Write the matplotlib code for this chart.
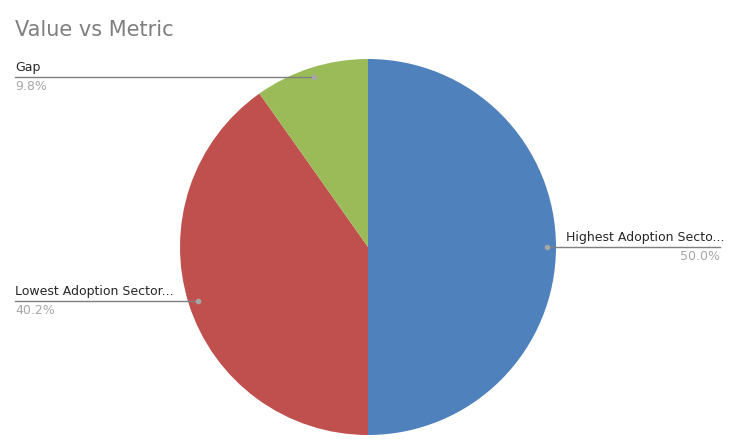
import numpy as np
import matplotlib.pyplot as plt

labels = ['Highest Adoption Secto...', 'Lowest Adoption Sector...', 'Gap']
values = [50.0, 40.2, 9.8]
colors = ['#4F81BD', '#C0504D', '#9BBB59']

fig = plt.figure(figsize=(7.31, 4.41), dpi=100)
ax = fig.add_axes([0, 0, 1, 1])

cx, cy, r = 368, 247, 188
# y axis is inverted (pixel coords), so counterclock=True runs clockwise on screen
wedges, _ = ax.pie(values, colors=colors, startangle=-90, counterclock=True,
                   center=(cx, cy), radius=r, frame=True,
                   wedgeprops=dict(linewidth=0))
ax.set_xlim(0, 731)
ax.set_ylim(441, 0)
ax.set_aspect('equal')
ax.axis('off')

total = sum(values)
for w, lab, v in zip(wedges, labels, values):
    ang = np.deg2rad((w.theta1 + w.theta2) / 2)
    dx = cx + 0.95 * r * np.cos(ang)
    dy = cy + 0.95 * r * np.sin(ang)
    ax.plot(dx, dy, 'o', color='#A6A6A6', ms=3, zorder=5)
    if dx > cx:
        ax.plot([dx, 720], [dy, dy], color='#7F7F7F', lw=1)
        ax.text(566, dy - 3, lab, fontsize=9, color='#262626', va='bottom', ha='left')
        ax.text(720, dy + 3, f'{v / total * 100:.1f}%', fontsize=9, color='#A6A6A6',
                va='top', ha='right')
    else:
        ax.plot([15, dx], [dy, dy], color='#7F7F7F', lw=1)
        ax.text(15, dy - 3, lab, fontsize=9, color='#262626', va='bottom', ha='left')
        ax.text(15, dy + 3, f'{v / total * 100:.1f}%', fontsize=9, color='#A6A6A6',
                va='top', ha='left')

fig.text(15 / 731, 1 - 30 / 441, 'Value vs Metric', fontsize=15, color='#7F7F7F',
         va='center', ha='left')
fig.savefig('out.png', dpi=100)
